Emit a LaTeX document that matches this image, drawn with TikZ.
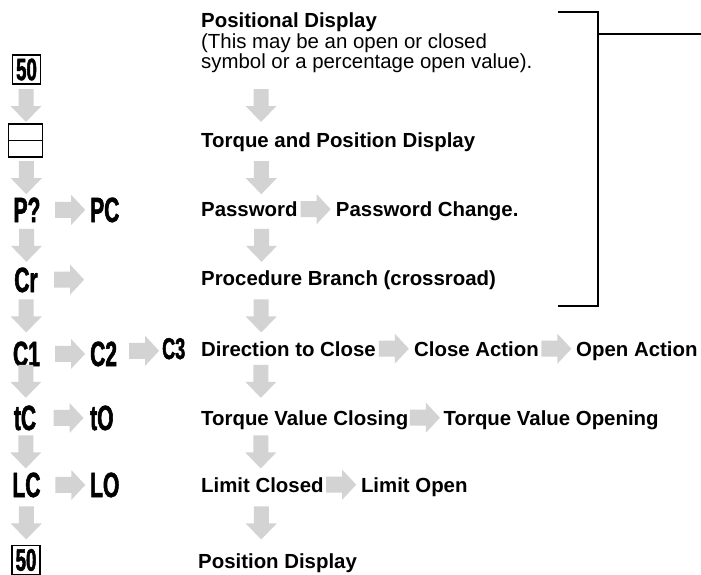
\documentclass[tikz,border=0pt]{standalone}
\usepackage{fontspec}
\setmainfont{Liberation Sans}
\newfontfamily\condfont[FakeStretch=0.6,FakeBold=1.6]{Liberation Sans}
\usetikzlibrary{calc}
\definecolor{arrgray}{RGB}{211,211,211}
\tikzset{
  rtext/.style={font=\bfseries\fontsize{20.4}{20.8}\selectfont,inner sep=0pt,anchor=base west},
  ltext/.style={font=\condfont\bfseries\fontsize{35}{35}\selectfont,inner sep=0pt,anchor=base},
  lbox/.style={draw,line width=1.6pt,inner sep=0pt,minimum width=28pt,minimum height=29pt,
    font=\condfont\bfseries\fontsize{31}{31}\selectfont},
  darr/.pic={\fill[arrgray] (-7.5,-16) -- (7.5,-16) -- (7.5,1) -- (15.5,1) -- (0,17) -- (-15.5,1) -- (-7.5,1) -- cycle;},
  rarr/.pic={\fill[arrgray] (-15,-8) -- (1,-8) -- (1,-15) -- (15,0) -- (1,15) -- (1,8) -- (-15,8) -- cycle;}
}

\begin{document}
\begin{tikzpicture}[x=1pt,y=-1pt]
\useasboundingbox (0,0) rectangle (701,574);
% left column
\node[lbox] (l0) at (26.5,69.5) {50};
\node[draw,line width=1.6pt,inner sep=0pt,minimum width=34pt,minimum height=33pt] (l1) at (25.5,140.5) {};
\draw[line width=1.6pt] (l1.west) -- (l1.east);
\node[ltext] (l2) at (27,222) {P?};
\node[ltext,anchor=base west] (pc) at (90,222) {PC};
\node[ltext] (l3) at (26,292) {Cr};
\coordinate (crend) at (90,279.5);
\node[ltext] (l4) at (26.5,366) {C1};
\node[ltext,anchor=base west] (c2) at (90,366) {C2};
\node[ltext,anchor=base west,font=\condfont\bfseries\fontsize{30}{30}\selectfont] (c3) at (162,359) {C3};
\node[ltext] (l5) at (25,430) {tC};
\node[ltext,anchor=base west] (to) at (90,430) {tO};
\node[ltext] (l6) at (26.5,497) {LC};
\node[ltext,anchor=base west] (lo) at (90,497) {LO};
\node[lbox] (l7) at (26,560) {50};
% right column
\node[rtext,anchor=north west,align=left] (pos) at (201,12.3) {Positional Display\\
  \mdseries(This may be an open or closed\\
  \mdseries symbol or a percentage open value).};
\node[rtext] (tpd) at (201,147.5) {Torque and Position Display};
\node[rtext] (pw) at (201,216.5) {Password};
\node[rtext] (pwc) at ([xshift=38pt]pw.base east) {Password Change.};
\node[rtext] (pb) at (201,285.5) {Procedure Branch (crossroad)};
\node[rtext] (dtc) at (201,356) {Direction to Close};
\node[rtext] (ca) at ([xshift=38pt]dtc.base east) {Close Action};
\node[rtext] (oa) at ([xshift=37pt]ca.base east) {Open Action};
\node[rtext] (tvc) at (201,425) {Torque Value Closing};
\node[rtext] (tvo) at ([xshift=35pt]tvc.base east) {Torque Value Opening};
\node[rtext] (lcl) at (201,492) {Limit Closed};
\node[rtext] (lop) at ([xshift=37pt]lcl.base east) {Limit Open};
\node[rtext] (pd) at (198,568.3) {Position Display};
% arrows
\foreach \p/\q/\f in {l0/l1/0.5,l1/l2/0.53,l2/l3/0.5,l3/l4/0.48,l4/l5/0.42,l5/l6/0.5,l6/l7/0.5}
  {\pic at ($(\p)!\f!(\q)$) {darr};
   \pic at ($(\p)!\f!(\q)+(235,0)$) {darr};}
\foreach \p/\q in {l2/pc,l4/c2,c2/c3,l5/to,l6/lo}
  \pic at ($(\p.east)!0.6!(\q.west)$) {rarr};
\pic at ($(l3.east)!0.6!(crend)$) {rarr};
\foreach \p/\q in {pw/pwc,dtc/ca,ca/oa,tvc/tvo,lcl/lop}
  \pic at ($(\p.base east)!0.47!(\q.base west)+(0,-7.3)$) {rarr};
% bracket
\coordinate (bt) at (558,12);
\coordinate (bb) at (558,306);
\coordinate (bout) at (701,34);
\draw[line width=1.2pt] (bt) -| (598,306) -- (bb);
\draw[line width=1.2pt] (598,34) -- (bout);
\end{tikzpicture}
\end{document}
